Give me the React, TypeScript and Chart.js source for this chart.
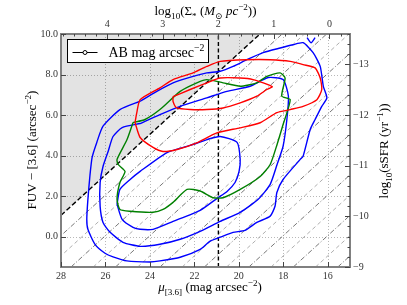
import React, { useEffect, useRef } from 'react';
import { Chart, registerables } from 'chart.js';
Chart.register(...registerables);

const FONT = '"Liberation Serif", "DejaVu Serif", serif';

// axis ticks
const xTicks = [28, 26, 24, 22, 20, 18, 16];
const yTicks = [0, 2, 4, 6, 8, 10];
const sigmaTicks = [4, 3, 2, 1, 0];
const ssfrTicks = [-13, -12, -11, -10, -9];

// reference lines
const muLimit = 29.05; // thick dashed line: mu + color = const
const sigmaLineMu = 20.92; // log Sigma = 2
const diagC = [28.05, 27.05, 26.05, 25.05, 24.05, 23.05, 22.05, 21.05, 20.05, 19.05, 18.05, 17.05, 16.05, 15.05, 14.05];

// contours [mu, colour]
const blueOuter = [[24.44,6.68],[23.69,7.17],[22.96,7.59],[22.06,7.91],[21.44,8.08],[20.84,8.16],[20.26,8.40],[19.64,8.73],[18.91,9.08],[18.14,9.31],[17.56,9.47],[17.11,9.57],[16.66,9.08],[16.34,8.40],[16.20,7.42],[16.04,6.85],[16.27,6.43],[16.57,5.78],[16.79,5.29],[17.11,3.97],[17.24,3.81],[18.01,2.82],[18.29,2.18],[18.37,1.51],[18.59,1.01],[19.19,0.70],[19.72,0.31],[20.26,0.21],[20.84,-0.03],[21.29,-0.22],[21.74,-0.63],[22.64,-1.02],[23.55,-1.20],[24.00,-1.25],[25.04,-1.20],[25.66,-1.00],[26.02,-0.82],[26.47,-0.38],[26.79,0.36],[26.84,0.85],[26.79,1.84],[26.70,2.99],[26.60,3.91],[26.39,4.65],[26.11,5.45],[25.35,6.27],[24.44,6.68]];
const blueMid = [[24.44,5.58],[23.55,6.02],[22.64,6.43],[21.44,6.85],[20.54,7.17],[19.49,7.42],[18.68,7.85],[18.01,7.75],[17.77,6.93],[17.84,5.78],[18.01,4.46],[18.28,3.56],[18.59,2.58],[19.13,1.84],[19.94,1.20],[20.84,0.75],[21.74,0.26],[22.64,-0.13],[23.55,-0.38],[24.44,-0.48],[25.21,-0.28],[25.79,0.21],[26.11,0.70],[26.24,1.49],[26.24,2.67],[26.11,3.46],[25.88,4.20],[25.66,4.94],[25.25,5.38],[24.44,5.58]];
const blueInner = [[25.48,1.59],[25.35,2.33],[24.89,2.82],[24.44,3.22],[23.23,4.15],[22.19,4.50],[21.43,4.79],[20.84,4.94],[20.08,4.65],[19.94,3.81],[19.99,3.22],[20.17,2.67],[20.53,2.23],[20.98,1.89],[21.74,1.30],[22.96,0.75],[23.86,0.36],[24.44,0.36],[24.76,0.46],[25.25,0.85],[25.48,1.59]];
const blueSpot = [[16.93,9.82],[16.75,9.57],[16.57,9.82]];
const greenLevel = [[24.76,5.63],[25.03,4.79],[25.48,3.81],[25.43,3.56],[25.12,3.22],[25.35,2.67],[25.48,1.84],[25.35,1.34],[24.89,1.25],[23.86,1.20],[23.41,1.34],[22.96,1.69],[22.33,2.33],[21.74,2.25],[21.16,1.92],[20.71,1.92],[19.94,2.33],[19.04,2.97],[18.59,3.56],[18.28,4.55],[18.01,5.53],[17.69,6.76],[18.07,6.93],[17.92,7.83],[18.14,8.08],[18.74,7.91],[19.19,7.59],[19.94,7.42],[20.71,7.59],[21.44,7.75],[21.89,7.59],[22.64,7.17],[23.55,6.27],[24.22,5.78],[24.76,5.63]];
const redOuter = [[24.67,5.63],[24.59,6.12],[24.44,6.76],[23.55,7.34],[22.96,7.75],[22.06,8.08],[21.44,8.40],[20.84,8.65],[19.64,8.73],[18.59,8.73],[17.69,8.65],[17.11,8.49],[16.57,8.33],[16.34,7.83],[16.27,7.26],[16.49,6.76],[17.11,6.43],[17.69,6.27],[18.29,6.12],[19.04,5.62],[19.94,5.37],[20.99,5.12],[21.89,4.63],[22.78,4.30],[23.41,4.20],[23.86,4.40],[24.44,4.89],[24.67,5.63]];
const redInner = [[22.96,6.91],[22.19,7.26],[21.44,7.59],[20.84,7.83],[19.94,7.83],[19.36,7.75],[18.50,7.40],[18.74,7.26],[19.19,6.93],[19.94,6.60],[20.71,6.35],[21.44,6.27],[22.19,6.27],[22.79,6.35],[22.96,6.67],[22.96,6.91]];

const X_MIN = 15, X_MAX = 28, Y_MIN = -1.5, Y_MAX = 10;
const SIG_MIN = -0.37, SIG_MAX = 4.83, SSFR_MIN = -13.6, SSFR_MAX = -9;

const pts = (a: number[][]) => a.map(([x, y]) => ({ x, y }));

type Seg = { t: string; s?: 'sub' | 'sup'; i?: boolean };
function drawRich(ctx: CanvasRenderingContext2D, segs: Seg[], x: number, y: number, size: number, align: 'center' | 'left', rot = 0) {
  const fontFor = (g: Seg) => `${g.i ? 'italic ' : ''}${g.s ? size * 0.7 : size}px ${FONT}`;
  let total = 0;
  const widths = segs.map(g => { ctx.font = fontFor(g); const w = ctx.measureText(g.t).width; total += w; return w; });
  ctx.save();
  ctx.translate(x, y);
  ctx.rotate(rot);
  ctx.textBaseline = 'alphabetic';
  ctx.textAlign = 'left';
  ctx.fillStyle = '#000';
  let cx = align === 'center' ? -total / 2 : 0;
  segs.forEach((g, k) => {
    ctx.font = fontFor(g);
    const dy = g.s === 'sub' ? size * 0.28 : g.s === 'sup' ? -size * 0.42 : 0;
    ctx.fillText(g.t, cx, dy);
    cx += widths[k];
  });
  ctx.restore();
}

const deco = {
  id: 'deco',
  beforeDatasetsDraw(chart: any) {
    const { ctx, chartArea: a, scales } = chart;
    ctx.save();
    ctx.strokeStyle = '#b8b8b8';
    ctx.lineWidth = 1;
    ctx.setLineDash([1, 2]);
    for (const v of xTicks) {
      const p = Math.round(scales.x.getPixelForValue(v)) + 0.5;
      ctx.beginPath(); ctx.moveTo(p, a.top); ctx.lineTo(p, a.bottom); ctx.stroke();
    }
    for (const v of yTicks) {
      const p = Math.round(scales.y.getPixelForValue(v)) + 0.5;
      ctx.beginPath(); ctx.moveTo(a.left, p); ctx.lineTo(a.right, p); ctx.stroke();
    }
    ctx.restore();
  },
  afterDatasetsDraw(chart: any) {
    const { ctx, chartArea: a, scales } = chart;
    ctx.save();
    // legend
    const lx = a.left + 6.5, ly = a.top + 5.5;
    ctx.fillStyle = '#fff';
    ctx.fillRect(lx, ly, 141, 23);
    ctx.strokeStyle = '#000';
    ctx.lineWidth = 1;
    ctx.setLineDash([]);
    ctx.strokeRect(lx, ly, 141, 23);
    ctx.beginPath(); ctx.moveTo(lx + 5, ly + 13); ctx.lineTo(lx + 30, ly + 13); ctx.stroke();
    ctx.beginPath(); ctx.arc(lx + 17.5, ly + 13, 2, 0, Math.PI * 2); ctx.fillStyle = '#fff'; ctx.fill(); ctx.stroke();
    drawRich(ctx, [{ t: 'AB mag arcsec' }, { t: '−2', s: 'sup' }], lx + 41, ly + 17.5, 14, 'left');

    // frame
    ctx.strokeStyle = '#808080';
    ctx.lineWidth = 2;
    ctx.strokeRect(a.left, a.top, a.right - a.left, a.bottom - a.top);

    // ticks
    ctx.strokeStyle = '#444';
    ctx.lineWidth = 1;
    const tick = (x1: number, y1: number, x2: number, y2: number) => { ctx.beginPath(); ctx.moveTo(x1, y1); ctx.lineTo(x2, y2); ctx.stroke(); };
    for (const v of xTicks) { const p = Math.round(scales.x.getPixelForValue(v)) + 0.5; tick(p, a.bottom, p, a.bottom - 5); }
    for (const v of yTicks) { const p = Math.round(scales.y.getPixelForValue(v)) + 0.5; tick(a.left, p, a.left + 5, p); }
    for (const v of sigmaTicks) { const p = Math.round(scales.x2.getPixelForValue(v)) + 0.5; tick(p, a.top, p, a.top + 5); }
    for (let k = -2; k <= 24; k++) { const v = k * 0.2; if (v < SIG_MIN || v > SIG_MAX) continue; const p = Math.round(scales.x2.getPixelForValue(v)) + 0.5; tick(p, a.top, p, a.top + 2.5); }
    for (const v of ssfrTicks) { const p = Math.round(scales.y2.getPixelForValue(v)) + 0.5; tick(a.right, p, a.right - 5, p); }
    for (let k = -68; k <= -45; k++) { const v = k * 0.2; if (v < SSFR_MIN - 1e-6 || v > SSFR_MAX) continue; const p = Math.round(scales.y2.getPixelForValue(v)) + 0.5; tick(a.right, p, a.right - 2.5, p); }

    // titles
    drawRich(ctx, [{ t: 'log' }, { t: '10', s: 'sub' }, { t: '(Σ' }, { t: '*', s: 'sub' }, { t: ' (' }, { t: 'M', i: true }, { t: '⊙', s: 'sub' }, { t: ' pc', i: true }, { t: '−2', s: 'sup' }, { t: '))' }], (a.left + a.right) / 2, 15, 13, 'center');
    drawRich(ctx, [{ t: 'μ', i: true }, { t: '[3.6]', s: 'sub' }, { t: ' (mag arcsec' }, { t: '−2', s: 'sup' }, { t: ')' }], 210, 291, 13, 'center');
    drawRich(ctx, [{ t: 'FUV − [3.6] (arcsec' }, { t: '−2', s: 'sup' }, { t: ')' }], 36, 150, 13, 'center', -Math.PI / 2);
    drawRich(ctx, [{ t: 'log' }, { t: '10', s: 'sub' }, { t: '(sSFR (yr' }, { t: '−1', s: 'sup' }, { t: '))' }], 388, 151, 13, 'center', -Math.PI / 2);
    ctx.restore();
  },
};

export default function App() {
  const ref = useRef<HTMLCanvasElement | null>(null);
  useEffect(() => {
    if (!ref.current) return;
    const contour = (data: number[][], color: string) => ({
      data: pts(data), borderColor: color, borderWidth: 1.4, pointRadius: 0, tension: 0.2, fill: false, order: 0,
    });
    const datasets: any[] = [
      contour(redInner, '#ff0000'),
      contour(redOuter, '#ff0000'),
      contour(greenLevel, '#008000'),
      contour(blueInner, '#0000ff'),
      contour(blueMid, '#0000ff'),
      contour(blueOuter, '#0000ff'),
      contour(blueSpot, '#0000ff'),
      {
        data: [{ x: sigmaLineMu, y: Y_MIN }, { x: sigmaLineMu, y: Y_MAX }],
        borderColor: '#000', borderWidth: 1.4, borderDash: [4, 2.5], pointRadius: 0, fill: false, order: 1,
      },
      {
        data: [{ x: X_MAX, y: muLimit - X_MAX }, { x: muLimit - Y_MAX, y: Y_MAX }],
        borderColor: '#000', borderWidth: 1.4, borderDash: [5, 2.5], pointRadius: 0,
        fill: 'end', backgroundColor: 'rgba(0,0,0,0.11)', order: 3,
      },
      ...diagC.map((c, k) => ({
        data: [{ x: c - Y_MIN, y: Y_MIN }, { x: c - Y_MAX, y: Y_MAX }],
        borderColor: k % 2 === 0 ? '#555' : '#9a9a9a', borderWidth: 0.8,
        borderDash: k % 2 === 0 ? [5, 2, 1, 2] : [4, 3], pointRadius: 0, fill: false, order: 2,
      })),
    ];
    const tickFont = { family: FONT, size: 10 };
    const hide = { display: false, drawTicks: false, tickLength: 0 };
    const chart = new Chart(ref.current, {
      type: 'line',
      data: { datasets },
      plugins: [deco],
      options: {
        responsive: false,
        animation: false,
        layout: { padding: 0 },
        plugins: { legend: { display: false }, tooltip: { enabled: false } },
        scales: {
          x: {
            type: 'linear', position: 'bottom', min: X_MIN, max: X_MAX, reverse: true,
            grid: hide, border: { display: false },
            afterBuildTicks: (s: any) => { s.ticks = xTicks.map(v => ({ value: v })); },
            afterFit: (s: any) => { s.height = 38; },
            ticks: { font: tickFont, color: '#333', padding: 3, autoSkip: false, maxRotation: 0, callback: (v: any) => String(v) },
          },
          x2: {
            type: 'linear', position: 'top', min: SIG_MIN, max: SIG_MAX, reverse: true,
            grid: hide, border: { display: false },
            afterBuildTicks: (s: any) => { s.ticks = sigmaTicks.map(v => ({ value: v })); },
            afterFit: (s: any) => { s.height = 34; },
            ticks: { font: tickFont, color: '#333', padding: 4, autoSkip: false, maxRotation: 0, callback: (v: any) => String(v) },
          },
          y: {
            type: 'linear', position: 'left', min: Y_MIN, max: Y_MAX,
            grid: hide, border: { display: false },
            afterBuildTicks: (s: any) => { s.ticks = yTicks.map(v => ({ value: v })); },
            afterFit: (s: any) => { s.width = 61; },
            ticks: { font: tickFont, color: '#333', padding: 3, autoSkip: false, callback: (v: any) => Number(v).toFixed(1) },
          },
          y2: {
            type: 'linear', position: 'right', min: SSFR_MIN, max: SSFR_MAX, reverse: true,
            grid: hide, border: { display: false },
            afterBuildTicks: (s: any) => { s.ticks = ssfrTicks.map(v => ({ value: v })); },
            afterFit: (s: any) => { s.width = 57; },
            ticks: { font: tickFont, color: '#333', padding: 3, autoSkip: false, callback: (v: any) => '−' + Math.abs(Number(v)) },
          },
        },
      } as any,
    });
    return () => chart.destroy();
  }, []);
  return (
    <div style={{ position: 'fixed', left: 0, top: 0, width: 407, height: 305, background: '#fff' }}>
      <canvas ref={ref} width={407} height={305} style={{ display: 'block' }} />
    </div>
  );
}
